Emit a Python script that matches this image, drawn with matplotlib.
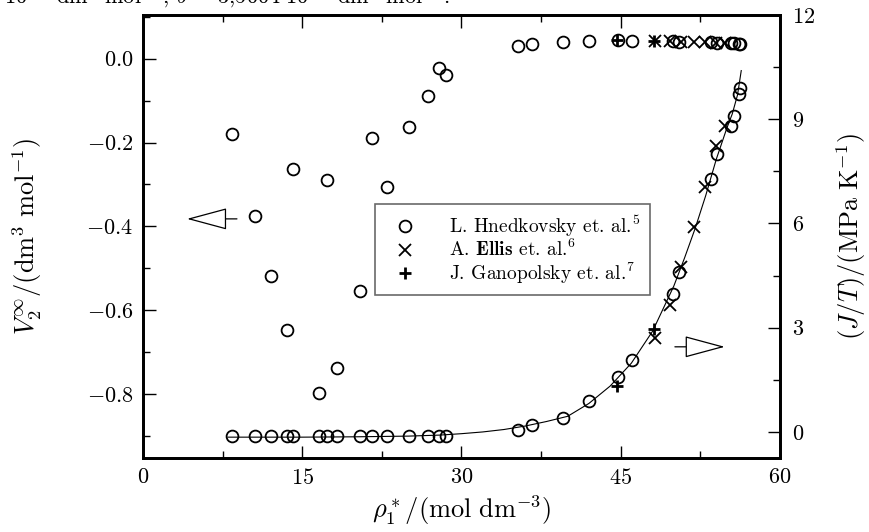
import matplotlib
matplotlib.use("Agg")
import matplotlib.pyplot as plt
from matplotlib.ticker import MultipleLocator, FuncFormatter

plt.rcParams["font.family"] = "serif"
plt.rcParams["font.serif"] = ["cmr10"]
plt.rcParams["mathtext.fontset"] = "cm"
plt.rcParams["axes.unicode_minus"] = False

# Hnedkovsky: same densities carry V2 (left axis) and J/T (right axis)
rho_h = [8.35, 10.55, 12.06, 13.6, 14.16, 16.6, 17.3, 18.3, 20.4, 21.6, 22.95, 25.1, 26.8, 27.9, 28.5,
         35.3, 36.6, 39.6, 42.0, 44.7, 46.1, 49.9, 50.5, 53.5, 54.1, 55.4, 55.7, 56.1, 56.25]
v2_h = [-0.179, -0.376, -0.517, -0.648, -0.263, -0.798, -0.289, -0.737, -0.555, -0.190, -0.305,
        -0.162, -0.088, -0.023, -0.040,
        0.030, 0.034, 0.039, 0.042, 0.044, 0.043, 0.041, 0.040, 0.039, 0.038, 0.037, 0.037, 0.036, 0.036]
jt_h = [-0.13, -0.13, -0.13, -0.12, -0.13, -0.13, -0.13, -0.12, -0.13, -0.13, -0.13, -0.13, -0.13, -0.12, -0.13,
        0.07, 0.20, 0.41, 0.89, 1.59, 2.07, 3.98, 4.60, 7.28, 8.00, 8.81, 9.10, 9.72, 9.91]

# Ellis
rho_e = [48.2, 49.6, 50.7, 51.9, 52.9, 54.0, 54.8]
v2_e = [0.042, 0.041, 0.040, 0.040, 0.039, 0.038, 0.038]
jt_e = [2.70, 3.65, 4.75, 5.90, 7.04, 8.24, 8.81]

# Ganopolsky
rho_g = [44.6, 48.1]
v2_g = [0.044, 0.042]
jt_g = [1.31, 2.95]

# fitted J/T curve
rho_fit = [8.0, 15.0, 20.0, 25.0, 28.0, 30.0, 32.0, 34.0, 36.0, 38.0, 40.0, 42.0, 44.0, 46.0, 48.0,
           50.0, 51.0, 52.0, 53.0, 54.0, 55.0, 55.5, 56.0, 56.35]
jt_fit = [-0.15, -0.15, -0.14, -0.12, -0.09, -0.05, 0.0, 0.07, 0.17, 0.30, 0.45, 0.82, 1.32, 1.98, 2.90,
          4.20, 5.00, 5.85, 6.80, 7.85, 8.75, 9.15, 9.70, 10.40]

fig = plt.figure(figsize=(8.7, 5.32), dpi=100)
ax = fig.add_axes([143 / 870, 1 - 458 / 532, 637 / 870, 443 / 532])
ax2 = ax.twinx()

ax.set_xlim(0, 60)
ax.set_ylim(-0.952, 0.104)
ax2.set_ylim(-0.75, 12)

circ = dict(marker="o", ms=8.5, mfc="none", mec="black", mew=1.3, ls="none")
cross = dict(marker="x", ms=8.5, mec="black", mew=1.3, ls="none")
plus = dict(marker="+", ms=9, mec="black", mew=2.0, ls="none")

ax.plot(rho_h, v2_h, **circ)
ax.plot(rho_e, v2_e, **cross)
ax.plot(rho_g, v2_g, **plus)

ax2.plot(rho_fit, jt_fit, color="black", lw=0.8)
h1, = ax2.plot(rho_h, jt_h, **circ)
h2, = ax2.plot(rho_e, jt_e, **cross)
h3, = ax2.plot(rho_g, jt_g, **plus)

# arrows pointing to the axis each set belongs to
arrow = dict(arrowstyle="-|>,head_length=1.3,head_width=0.35", fc="white", ec="black",
             lw=0.9, mutation_scale=20, shrinkA=0, shrinkB=0)
ax.annotate("", xy=(4.14, -0.382), xytext=(8.85, -0.382), arrowprops=arrow)
ax2.annotate("", xy=(54.8, 2.45), xytext=(50.1, 2.45), arrowprops=arrow)

ax.xaxis.set_major_locator(MultipleLocator(15))
ax.xaxis.set_minor_locator(MultipleLocator(7.5))
ax.xaxis.set_major_formatter(FuncFormatter(lambda v, _: "$%d$" % v))
ax.yaxis.set_major_locator(MultipleLocator(0.2))
ax.yaxis.set_minor_locator(MultipleLocator(0.1))
ax.yaxis.set_major_formatter(FuncFormatter(lambda v, _: ("$%.1f$" % v).replace("-0.0", "0.0")))
ax2.yaxis.set_major_locator(MultipleLocator(3))
ax2.yaxis.set_minor_locator(MultipleLocator(1.5))
ax2.yaxis.set_major_formatter(FuncFormatter(lambda v, _: "$%d$" % v))

ax.tick_params(which="both", direction="in", top=True, right=False, labelsize=16, width=1.0)
ax.tick_params(which="major", length=9)
ax.tick_params(which="minor", length=5)
ax.tick_params(axis="x", pad=7)
ax.tick_params(axis="y", pad=7)
ax2.tick_params(which="both", direction="in", labelsize=16, width=1.0, pad=9)
ax2.tick_params(which="major", length=9)
ax2.tick_params(which="minor", length=5)
for a in (ax, ax2):
    for s in a.spines.values():
        s.set_linewidth(2.0)

ax.set_xlabel(r"$\rho_1^*/(\mathrm{mol\ dm}^{-3})$", fontsize=19)
ax.set_ylabel(r"$V_2^\infty/(\mathrm{dm}^3\ \mathrm{mol}^{-1})$", fontsize=19)
ax2.set_ylabel(r"$(J/T)/(\mathrm{MPa\ K}^{-1})$", fontsize=19)
ax.xaxis.set_label_coords(0.5, -0.08)
ax.yaxis.set_label_coords(-0.155, 0.5)
ax2.yaxis.set_label_coords(1.085, 0.5)

leg = ax2.legend([h1, h2, h3],
                 [r"L. Hnedkovsky et. al.$^5$", r"A. $\mathbf{Ellis}$ et. al.$^6$",
                  r"J. Ganopolsky et. al.$^7$"],
                 loc="upper left", bbox_to_anchor=(0.364, 0.573), fontsize=14,
                 frameon=True, fancybox=False, borderpad=0.5, handlelength=2.1,
                 handletextpad=1.2, labelspacing=0.0, borderaxespad=0)
leg.get_frame().set_edgecolor("#444444")
leg.get_frame().set_linewidth(1.2)

fig.text(-0.002, 1 - 3 / 532,
         r"$\cdot 10^{-3}$ dm$^3$ mol$^{-1}$, $b$ = 3,5004$\cdot 10^{-3}$ dm$^3$ mol$^{-1}$.",
         fontsize=16, va="baseline", ha="left")

fig.savefig("out.png", dpi=100)
